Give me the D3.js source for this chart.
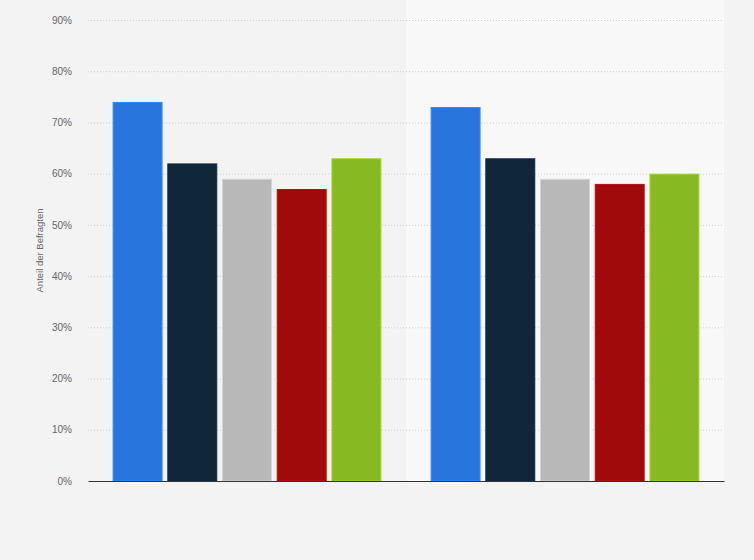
<!DOCTYPE html>
<html><head><meta charset="utf-8">
<script src="https://cdn.jsdelivr.net/npm/d3@7"></script>
<style>html,body{margin:0;padding:0;background:#f3f3f3;}svg{display:block;font-family:"Liberation Sans",Arial,sans-serif;}</style>
</head><body>
<svg id="c" width="754" height="560"></svg>
<script>
const categories = ["Gruppe 1", "Gruppe 2"];
const seriesNames = ["Serie 1", "Serie 2", "Serie 3", "Serie 4", "Serie 5"];
const seriesValues = [
  [74, 73],
  [62, 63],
  [59, 59],
  [57, 58],
  [63, 60]
];
const seriesColors = ["#2876dd", "#10263b", "#b8b8b8", "#a10a0a", "#87b923"];
const yTicks = [0, 10, 20, 30, 40, 50, 60, 70, 80, 90];
const yLabel = "Anteil der Befragten";

const svg = d3.select("#c");
const m = {left: 88, right: 30, top: 20, bottom: 79};
const W = 754, H = 560;
const x0 = d3.scaleBand().domain(categories).range([m.left, W - m.right]).padding(0);
const x1 = d3.scaleBand().domain(seriesNames).range([0, x0.bandwidth()]).paddingInner(0.087).paddingOuter(0.45);
const y = d3.scaleLinear().domain([0, 90]).range([H - m.bottom, m.top]);

// alternating band background
svg.selectAll("rect.band").data(categories).join("rect")
  .attr("x", d => x0(d)).attr("y", 0)
  .attr("width", x0.bandwidth()).attr("height", y(0))
  .attr("fill", (d, i) => i % 2 ? "#f8f8f8" : "#f3f3f3");

// grid
const gy = svg.append("g").attr("transform", `translate(${m.left},0)`)
  .call(d3.axisLeft(y).tickValues(yTicks).tickSize(-(W - m.left - m.right)).tickPadding(16).tickFormat(d => d + "%"));
gy.select(".domain").remove();
gy.selectAll(".tick line").attr("stroke", "#cfcfcf").attr("stroke-dasharray", "1,2")
  .attr("opacity", d => d === 0 ? 0 : 1);
gy.selectAll(".tick text").attr("fill", "#666").attr("font-size", 10).attr("font-family", "'Liberation Sans',Arial,sans-serif");

// bars
const groups = svg.selectAll("g.grp").data(categories).join("g")
  .attr("transform", d => `translate(${x0(d)},0)`);
groups.selectAll("rect").data((d, ci) => seriesNames.map((s, si) => ({s, si, v: seriesValues[si][ci]})))
  .join("rect")
  .attr("x", d => x1(d.s) + 0.5).attr("y", d => y(d.v) + 0.5)
  .attr("width", x1.bandwidth() - 1).attr("height", d => y(0) - y(d.v) - 0.5)
  .attr("fill", d => seriesColors[d.si])
  .attr("stroke", d => d3.color(seriesColors[d.si]).brighter(0.4))
  .attr("stroke-width", 1);

// x axis
const gx = svg.append("g").attr("transform", `translate(0,${y(0)})`)
  .call(d3.axisBottom(x0).tickSize(0).tickFormat(() => ""));
gx.select(".domain").attr("stroke", "#333").attr("stroke-width", 1.2);

// y label
svg.append("text").attr("transform", `translate(43,${(y(0) + y(90)) / 2}) rotate(-90)`)
  .attr("text-anchor", "middle").attr("fill", "#666").attr("font-size", 9.5).text(yLabel);
</script>
</body></html>
